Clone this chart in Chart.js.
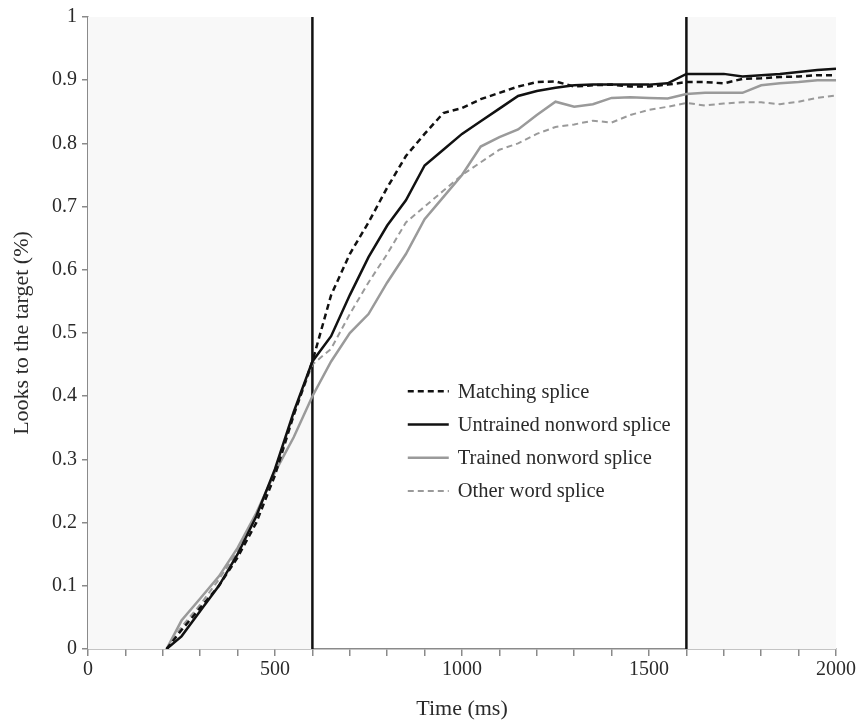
<!DOCTYPE html>
<html>
<head>
<meta charset="utf-8">
<script src="https://cdn.jsdelivr.net/npm/chart.js@4/dist/chart.umd.min.js"></script>
<style>
  html, body { margin: 0; padding: 0; background: #fff; }
  #wrap { width: 859px; height: 720px; }
</style>
</head>
<body>
<div id="wrap"><canvas id="chart" width="859" height="720"></canvas></div>
<script>
const times = [210, 250, 300, 350, 400, 450, 500, 550, 600, 650, 700, 750, 800, 850, 900, 950, 1000,
  1050, 1100, 1150, 1200, 1250, 1300, 1350, 1400, 1450, 1500, 1550, 1600, 1650, 1700, 1750, 1800,
  1850, 1900, 1950, 2000];

const matching = [0.00, 0.03, 0.065, 0.10, 0.145, 0.20, 0.275, 0.37, 0.455, 0.56, 0.625, 0.675, 0.73,
  0.78, 0.815, 0.848, 0.856, 0.87, 0.88, 0.89, 0.897, 0.898, 0.89, 0.892, 0.893, 0.89, 0.89, 0.893,
  0.897, 0.897, 0.895, 0.902, 0.903, 0.905, 0.906, 0.908, 0.908];

const untrained = [0.00, 0.02, 0.06, 0.10, 0.15, 0.21, 0.285, 0.375, 0.455, 0.495, 0.56, 0.62, 0.67,
  0.71, 0.765, 0.79, 0.815, 0.835, 0.855, 0.875, 0.883, 0.888, 0.892, 0.893, 0.893, 0.893, 0.893,
  0.895, 0.91, 0.91, 0.91, 0.906, 0.908, 0.91, 0.913, 0.916, 0.918];

const trained = [0.00, 0.045, 0.08, 0.115, 0.16, 0.215, 0.28, 0.335, 0.40, 0.455, 0.50, 0.53, 0.58,
  0.625, 0.68, 0.715, 0.75, 0.795, 0.81, 0.822, 0.845, 0.866, 0.858, 0.862, 0.872, 0.873, 0.872,
  0.871, 0.878, 0.88, 0.88, 0.88, 0.892, 0.895, 0.897, 0.90, 0.90];

const otherWord = [0.00, 0.035, 0.07, 0.11, 0.155, 0.21, 0.28, 0.37, 0.45, 0.475, 0.53, 0.58, 0.625,
  0.675, 0.70, 0.725, 0.75, 0.77, 0.79, 0.80, 0.815, 0.826, 0.83, 0.836, 0.833, 0.845, 0.853, 0.858,
  0.864, 0.86, 0.863, 0.865, 0.865, 0.862, 0.866, 0.872, 0.876];

const markers = [600, 1600];
const shadedRanges = [[0, 600], [1600, 2000]];

const FONT = '"Liberation Serif", "DejaVu Serif", serif';

function points(ys) {
  return ys.map((y, i) => ({ x: times[i], y }));
}

// light grey background outside the marker window
const shadePlugin = {
  id: 'shade',
  beforeDatasetsDraw(chart) {
    const { ctx, chartArea, scales } = chart;
    ctx.save();
    ctx.fillStyle = '#f8f8f8';
    shadedRanges.forEach(([a, b]) => {
      const x1 = scales.x.getPixelForValue(a);
      const x2 = scales.x.getPixelForValue(b);
      ctx.fillRect(x1, chartArea.top, x2 - x1, chartArea.bottom - chartArea.top);
    });
    ctx.restore();
  },
};

// legend drawn inside the plot area
const legendPlugin = {
  id: 'insideLegend',
  afterDraw(chart) {
    const { ctx, scales } = chart;
    const x0 = scales.x.getPixelForValue(855);
    let y = scales.y.getPixelForValue(0.408);
    ctx.save();
    ctx.font = '20.5px ' + FONT;
    ctx.textBaseline = 'middle';
    chart.data.datasets.forEach((ds) => {
      if (ds.hideLegend) return;
      ctx.strokeStyle = ds.borderColor;
      ctx.lineWidth = ds.borderWidth;
      ctx.setLineDash(ds.borderDash || []);
      ctx.beginPath();
      ctx.moveTo(x0, y);
      ctx.lineTo(x0 + 41, y);
      ctx.stroke();
      ctx.setLineDash([]);
      ctx.fillStyle = '#2a2a2a';
      ctx.fillText(ds.label, x0 + 50, y + 1);
      y += 33.3;
    });
    ctx.restore();
  },
};

const markerSets = markers.map((m) => ({
  label: 'marker ' + m,
  hideLegend: true,
  data: [{ x: m, y: 0 }, { x: m, y: 1 }],
  borderColor: '#111',
  borderWidth: 2.5,
  pointRadius: 0,
}));

new Chart(document.getElementById('chart').getContext('2d'), {
  type: 'line',
  data: {
    datasets: [
      {
        label: 'Matching splice',
        data: points(matching),
        borderColor: '#111',
        borderWidth: 2.5,
        borderDash: [6, 4],
        pointRadius: 0,
      },
      {
        label: 'Untrained nonword splice',
        data: points(untrained),
        borderColor: '#111',
        borderWidth: 2.5,
        pointRadius: 0,
      },
      {
        label: 'Trained nonword splice',
        data: points(trained),
        borderColor: '#9a9a9a',
        borderWidth: 2.5,
        pointRadius: 0,
      },
      {
        label: 'Other word splice',
        data: points(otherWord),
        borderColor: '#9a9a9a',
        borderWidth: 2,
        borderDash: [6, 4],
        pointRadius: 0,
      },
      ...markerSets,
    ],
  },
  options: {
    responsive: false,
    animation: false,
    layout: { padding: { top: 17, right: 23, left: 0, bottom: 0 } },
    plugins: { legend: { display: false }, tooltip: { enabled: false } },
    scales: {
      x: {
        type: 'linear',
        min: 0,
        max: 2000,
        afterFit: (s) => { s.height = 71; },
        border: { color: '#8a8a8a', width: 1.5 },
        grid: { drawOnChartArea: false, tickLength: 7, color: '#8a8a8a', lineWidth: 1.5 },
        ticks: {
          stepSize: 100,
          autoSkip: false,
          maxRotation: 0,
          padding: 2,
          color: '#2a2a2a',
          font: { family: FONT, size: 20 },
          callback: (v) => (v % 500 === 0 ? String(v) : ''),
        },
        title: {
          display: true,
          text: 'Time (ms)',
          color: '#2a2a2a',
          font: { family: FONT, size: 22 },
          padding: { top: 4, bottom: -2 },
        },
      },
      y: {
        min: 0,
        max: 1,
        afterFit: (s) => { s.width = 88; },
        border: { color: '#8a8a8a', width: 1.5 },
        grid: { drawOnChartArea: false, tickLength: 6, color: '#8a8a8a', lineWidth: 1.5 },
        ticks: {
          stepSize: 0.1,
          padding: 5,
          color: '#2a2a2a',
          font: { family: FONT, size: 20 },
          callback: (v) => String(Math.round(v * 10) / 10),
        },
        title: {
          display: true,
          text: 'Looks to the target (%)',
          color: '#2a2a2a',
          font: { family: FONT, size: 22 },
          padding: { top: 9, bottom: 4 },
        },
      },
    },
  },
  plugins: [shadePlugin, legendPlugin],
});
</script>
</body>
</html>
